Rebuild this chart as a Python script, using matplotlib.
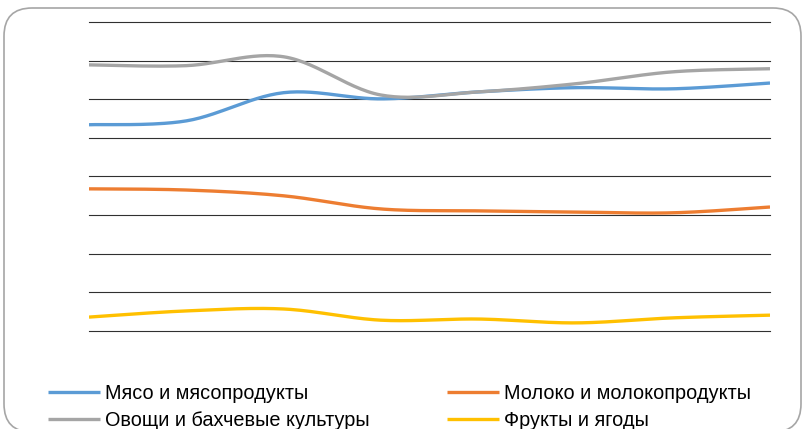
import numpy as np
import matplotlib.pyplot as plt
from matplotlib.patches import FancyBboxPatch

# values (grid step = 10)
periods = np.arange(8)
meat = [53.4, 54.4, 61.7, 60.1, 61.9, 63.0, 62.7, 64.2]
milk = [36.8, 36.5, 35.0, 31.6, 31.1, 30.8, 30.6, 32.1]
veg = [68.9, 68.7, 71.0, 61.1, 61.9, 64.0, 67.1, 67.9]
fruit = [3.6, 5.2, 5.7, 2.8, 3.1, 2.1, 3.4, 4.1]

labels = ['Мясо и мясопродукты', 'Молоко и молокопродукты',
          'Овощи и бахчевые культуры', 'Фрукты и ягоды']
colors = ['#5b9bd5', '#ed7d31', '#a5a5a5', '#ffc000']


def smooth(x, y, n=30):
    # Excel-like smoothed line: Catmull-Rom bezier through the points
    x = np.asarray(x, float)
    y = np.asarray(y, float)
    px = np.concatenate([[x[0]], x, [x[-1]]])
    py = np.concatenate([[y[0]], y, [y[-1]]])
    xs, ys = [], []
    t = np.linspace(0, 1, n)
    for i in range(1, len(px) - 2):
        p0 = np.array([px[i], py[i]])
        p3 = np.array([px[i + 1], py[i + 1]])
        c1 = p0 + (p3 - np.array([px[i - 1], py[i - 1]])) / 6
        c2 = p3 - (np.array([px[i + 2], py[i + 2]]) - p0) / 6
        b = ((1 - t) ** 3)[:, None] * p0 + (3 * (1 - t) ** 2 * t)[:, None] * c1 \
            + (3 * (1 - t) * t ** 2)[:, None] * c2 + (t ** 3)[:, None] * p3
        xs.extend(b[:, 0])
        ys.extend(b[:, 1])
    return xs, ys


plt.rcParams['font.family'] = ['Liberation Sans', 'DejaVu Sans']

fig = plt.figure(figsize=(8.03, 4.29), dpi=100)
box = FancyBboxPatch((4 / 803, 1 - 432 / 429), 797 / 803, 424 / 429,
                     boxstyle='round,pad=0,rounding_size=0.035',
                     transform=fig.transFigure, facecolor='white',
                     edgecolor='#a6a6a6', linewidth=1.2,
                     mutation_aspect=803 / 429, zorder=-5)
fig.patches.append(box)

ax = fig.add_axes([89 / 803, 1 - 331 / 429, 681 / 803, 309 / 429])
ax.set_facecolor('none')

lines = {}
for ys, lab, col in zip([meat, milk, veg, fruit], labels, colors):
    sx, sy = smooth(periods, ys)
    lines[lab] = ax.plot(sx, sy, color=col, linewidth=2.4, label=lab,
                         solid_capstyle='butt', zorder=3)[0]

ax.set_xlim(0, 7)
ax.set_ylim(0, 80)
ax.set_yticks(np.arange(0, 81, 10))
ax.set_xticks([])
ax.yaxis.grid(True, color='#303030', linewidth=0.8)
for gl in ax.get_ygridlines():
    gl.set_clip_on(False)
ax.set_axisbelow(True)
ax.tick_params(left=False, labelleft=False)
for s in ax.spines.values():
    s.set_visible(False)

leg_kw = dict(loc='upper left', frameon=False, fontsize=14.3, handlelength=2.6,
              handletextpad=0.25, labelspacing=0.4, borderpad=0, borderaxespad=0)
col1 = [labels[0], labels[2]]
col2 = [labels[1], labels[3]]
fig.legend([lines[k] for k in col1], col1,
           bbox_to_anchor=(48 / 803, 1 - 384 / 429), **leg_kw)
fig.legend([lines[k] for k in col2], col2,
           bbox_to_anchor=(447 / 803, 1 - 384 / 429), **leg_kw)

fig.savefig('out.png', dpi=100)
